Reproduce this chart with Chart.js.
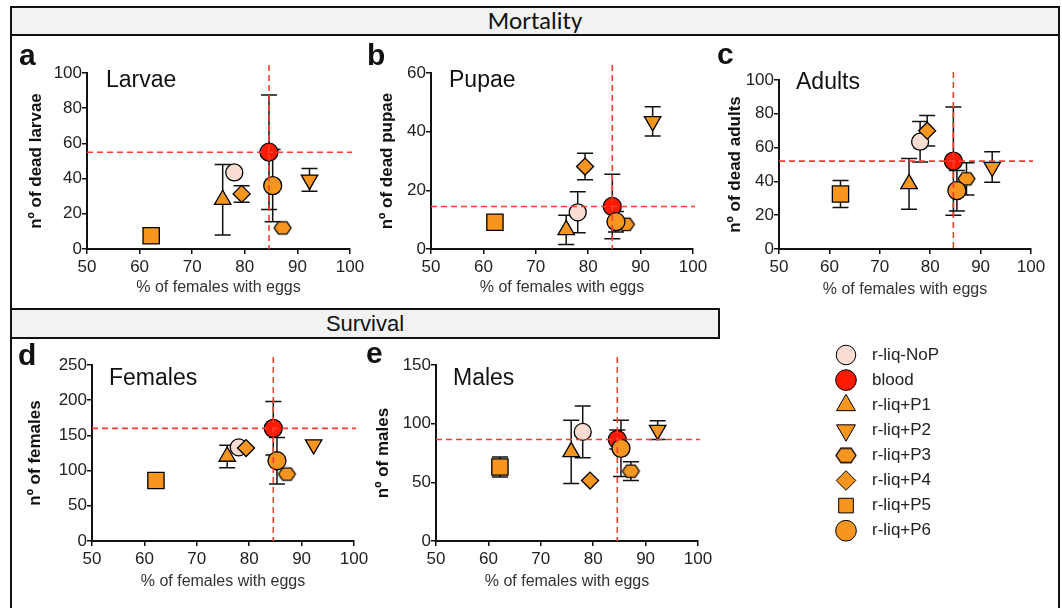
<!DOCTYPE html>
<html>
<head>
<meta charset="utf-8">
<script src="https://cdn.jsdelivr.net/npm/chart.js@4.4.1/dist/chart.umd.min.js"></script>
<style>
body{margin:0;background:#fff;width:1062px;height:608px;position:relative;overflow:hidden;font-family:"Liberation Sans",Arial,sans-serif}
.frame{position:absolute;left:10px;top:6px;width:1050px;height:620px;box-sizing:border-box;border-left:2px solid #111;border-right:2px solid #111}
.box{position:absolute;box-sizing:border-box;border:2px solid #111;background:#f2f2f2;text-align:center;color:#111}
canvas{position:absolute}
.lbl{position:absolute;line-height:1;white-space:nowrap;color:#111}
</style>
</head>
<body>
<div class="frame"></div>
<div class="box" style="left:10px;top:6px;width:1050px;height:30px;font:25px/26px Carlito,'Open Sans',sans-serif">Mortality</div>
<div class="box" style="left:10px;top:308px;width:710px;height:31px;font:22px/27px 'Liberation Sans',Arial,sans-serif">Survival</div>

<script>
// groups and values
const groups = ['r-liq-NoP', 'blood', 'r-liq+P1', 'r-liq+P2', 'r-liq+P3', 'r-liq+P4', 'r-liq+P5', 'r-liq+P6'];
const eggsPct = [78, 84.6, 75.8, 92.3, 87.2, 79.4, 62.2, 85.3];

const larvae    = [43.5, 55, 28, 39.3, 12, 31.3, 7.5, 36];
const larvaeErr = [0, 32.5, 20, 6.5, 0, 4.7, 0, 20.5];
const pupae     = [12.5, 14.5, 6.5, 43.5, 8.4, 28.1, 9.1, 9.3];
const pupaeErr  = [7, 11, 5, 5, 0, 4.5, 0, 3.5];
const adults    = [63.5, 52, 38.5, 48.5, 41.5, 70, 32.5, 34.5];
const adultsErr = [12, 32, 15, 9, 9.5, 9, 8, 12];
const females    = [133, 160, 120, 137, 95, 132, 86, 114];
const femalesErr = [0, 38, 16, 0, 0, 0, 0, 33];
const males    = [93, 86.5, 76, 94.5, 59.5, 51.5, 63, 79];
const malesErr = [22, 8, 27, 8, 8, 0, 8.5, 24];

const xTicks = [50, 60, 70, 80, 90, 100];
const yTicks100 = [0, 20, 40, 60, 80, 100];
const yTicks60 = [0, 20, 40, 60];
const yTicks250 = [0, 50, 100, 150, 200, 250];
const yTicks150 = [0, 50, 100, 150];

// marker styles
function hexagon(r) {
  const c = document.createElement('canvas');
  c.width = Math.ceil(2 * r + 4); c.height = Math.ceil(1.75 * r + 4);
  const g = c.getContext('2d');
  const cx = c.width / 2, cy = c.height / 2;
  g.beginPath();
  for (let k = 0; k < 6; k++) {
    const a = k * Math.PI / 3;
    g.lineTo(cx + r * Math.cos(a), cy + r * 0.84 * Math.sin(a));
  }
  g.closePath();
  g.fillStyle = '#F7961E'; g.fill();
  g.lineWidth = 1.3; g.strokeStyle = '#000'; g.stroke();
  return c;
}
const fills = ['#F9DDD3', '#FF1A00', '#F7961E', '#F7961E', '#F7961E', '#F7961E', '#F7961E', '#F7961E'];
const styles = ['circle', 'circle', 'triangle', 'triangle', hexagon(8.5), 'rectRot', 'rect', 'circle'];
const rotations = [0, 0, 0, 180, 0, 0, 0, 0];
const radii = [8.5, 9, 9.5, 9.5, 8, 8.5, 11.5, 9];

Chart.defaults.font.family = '"Liberation Sans", Arial, sans-serif';
Chart.defaults.color = '#222';

const errorBars = {
  id: 'errorBars',
  beforeDatasetsDraw(chart) {
    const {ctx, scales: {y}} = chart;
    ctx.save();
    ctx.strokeStyle = '#111';
    ctx.lineWidth = 1.5;
    chart.data.datasets.forEach((ds, i) => {
      const e = ds.yErr;
      if (!e) return;
      const pt = chart.getDatasetMeta(i).data[0];
      const v = ds.data[0].y;
      const t = y.getPixelForValue(v + e), b = y.getPixelForValue(v - e);
      ctx.beginPath();
      ctx.moveTo(pt.x, t); ctx.lineTo(pt.x, b);
      ctx.moveTo(pt.x - 8, t); ctx.lineTo(pt.x + 8, t);
      ctx.moveTo(pt.x - 8, b); ctx.lineTo(pt.x + 8, b);
      ctx.stroke();
    });
    ctx.restore();
  }
};

const refLines = {
  id: 'refLines',
  afterDatasetsDraw(chart, args, o) {
    const {ctx, chartArea: a, scales: {x, y}} = chart;
    const px = x.getPixelForValue(o.x), py = y.getPixelForValue(o.y);
    ctx.save();
    ctx.strokeStyle = '#FF3B2F';
    ctx.lineWidth = 1.6;
    ctx.setLineDash([6, 4]);
    ctx.beginPath();
    ctx.moveTo(px, a.top - 8); ctx.lineTo(px, a.bottom);
    ctx.moveTo(a.left, py); ctx.lineTo(a.right + 2, py);
    ctx.stroke();
    ctx.restore();
  }
};

function label(text, x, baseline, size, bold) {
  const d = document.createElement('div');
  d.className = 'lbl';
  d.textContent = text;
  d.style.left = x + 'px';
  d.style.top = (baseline - 0.846 * size) + 'px';
  d.style.fontSize = size + 'px';
  if (bold) d.style.fontWeight = 'bold';
  document.body.appendChild(d);
}

function panel(p) {
  const left = p.yTitleX - 12, top = p.top - 14, right = p.right + 18, bottom = p.xTitleY + 12;
  const cv = document.createElement('canvas');
  cv.width = right - left; cv.height = bottom - top;
  cv.style.left = left + 'px'; cv.style.top = top + 'px';
  document.body.appendChild(cv);

  const axis = {
    grid: {display: true, drawOnChartArea: false, drawTicks: true, tickLength: 5, color: '#111', lineWidth: 1.5},
    border: {display: true, color: '#111', width: 2}
  };

  new Chart(cv, {
    type: 'scatter',
    data: {
      datasets: groups.map((g, i) => ({
        label: g,
        data: [{x: eggsPct[i], y: p.values[i]}],
        yErr: p.err[i],
        pointStyle: styles[i],
        pointRadius: radii[i],
        pointRotation: rotations[i],
        pointBackgroundColor: fills[i],
        pointBorderColor: '#000',
        pointBorderWidth: 1.3,
        order: groups.length - i
      }))
    },
    options: {
      responsive: false,
      animation: false,
      events: [],
      devicePixelRatio: 1,
      layout: {padding: {top: 14, right: 18, left: 0, bottom: 0}},
      scales: {
        x: Object.assign({
          type: 'linear', min: 50, max: 100,
          afterBuildTicks: s => { s.ticks = xTicks.map(v => ({value: v})); },
          afterFit: s => { s.height = bottom - p.bottom; },
          ticks: {padding: 3, font: {size: 17}, color: '#222'},
          title: {display: true, text: '% of females with eggs', font: {size: 16}, color: '#333', padding: {top: 0, bottom: 2.4}}
        }, axis),
        y: Object.assign({
          type: 'linear', min: 0, max: p.ticks[p.ticks.length - 1],
          afterBuildTicks: s => { s.ticks = p.ticks.map(v => ({value: v})); },
          afterFit: s => { s.width = p.left - left; },
          ticks: {padding: 0, font: {size: 17}, color: '#222'},
          title: {display: true, text: p.yTitle, font: {size: 17, weight: 'bold'}, color: '#111', padding: {top: 2, bottom: 0}}
        }, axis)
      },
      plugins: {
        legend: {display: false},
        tooltip: {enabled: false},
        refLines: {x: eggsPct[1], y: p.values[1]}
      }
    },
    plugins: [errorBars, refLines]
  });

  label(p.letter, p.letterX, p.letterBase, 30, true);
  label(p.name, p.nameX, p.nameBase, 23, false);
}

panel({letter: 'a', letterX: 19, letterBase: 65, name: 'Larvae', nameX: 106, nameBase: 87,
  left: 87, right: 350, top: 73, bottom: 249, yTitleX: 36, xTitleY: 288,
  ticks: yTicks100, values: larvae, err: larvaeErr, yTitle: 'nº of dead larvae'});
panel({letter: 'b', letterX: 367, letterBase: 65, name: 'Pupae', nameX: 449, nameBase: 87,
  left: 431, right: 693, top: 73, bottom: 249, yTitleX: 387, xTitleY: 288,
  ticks: yTicks60, values: pupae, err: pupaeErr, yTitle: 'nº of dead pupae'});
panel({letter: 'c', letterX: 717, letterBase: 64, name: 'Adults', nameX: 796, nameBase: 89,
  left: 779, right: 1031, top: 80, bottom: 249, yTitleX: 735, xTitleY: 290,
  ticks: yTicks100, values: adults, err: adultsErr, yTitle: 'nº of dead adults'});
panel({letter: 'd', letterX: 18, letterBase: 365, name: 'Females', nameX: 109, nameBase: 385,
  left: 92, right: 354, top: 365, bottom: 541, yTitleX: 35, xTitleY: 582,
  ticks: yTicks250, values: females, err: femalesErr, yTitle: 'nº of females'});
panel({letter: 'e', letterX: 366, letterBase: 363, name: 'Males', nameX: 453, nameBase: 385,
  left: 436, right: 698, top: 365, bottom: 541, yTitleX: 383, xTitleY: 582,
  ticks: yTicks150, values: males, err: malesErr, yTitle: 'nº of males'});

// legend
const legendHex = hexagon(10);
const legendList = {
  id: 'legendList',
  afterDraw(chart) {
    const ctx = chart.ctx;
    chart.data.datasets.forEach((ds, i) => {
      const cy = 15 + i * 25.1;
      ctx.save();
      ctx.fillStyle = ds.pointBackgroundColor;
      ctx.strokeStyle = '#000';
      ctx.lineWidth = 1;
      Chart.helpers.drawPoint(ctx, {
        pointStyle: ds.pointStyle === styles[4] ? legendHex : ds.pointStyle,
        rotation: ds.pointRotation, radius: ds.pointRadius * 1.15, borderWidth: 1
      }, 20, cy);
      ctx.fillStyle = '#222';
      ctx.font = '17px "Liberation Sans", Arial, sans-serif';
      ctx.textBaseline = 'middle';
      ctx.fillText(ds.label, 46, cy);
      ctx.restore();
    });
  }
};
const lc = document.createElement('canvas');
lc.width = 200; lc.height = 215;
lc.style.left = '826px'; lc.style.top = '340px';
document.body.appendChild(lc);
new Chart(lc, {
  type: 'scatter',
  data: {
    datasets: groups.map((g, i) => ({
      label: g, data: [],
      pointStyle: styles[i], pointRadius: radii[i] > 10 ? 9 : radii[i], pointRotation: rotations[i],
      pointBackgroundColor: fills[i]
    }))
  },
  options: {
    responsive: false, animation: false, events: [], devicePixelRatio: 1,
    scales: {x: {display: false}, y: {display: false}},
    plugins: {legend: {display: false}, tooltip: {enabled: false}}
  },
  plugins: [legendList]
});
</script>
</body>
</html>
